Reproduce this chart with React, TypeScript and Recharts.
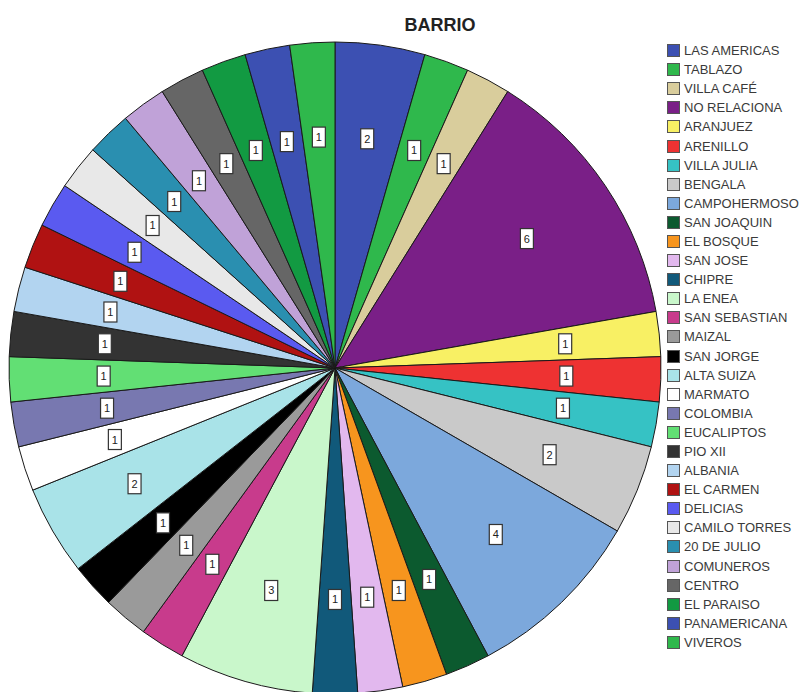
import React from 'react';
import { PieChart, Pie, Cell, Legend } from 'recharts';

// Neighbourhoods, clockwise from 12 o'clock
const barrios = [
  'LAS AMERICAS', 'TABLAZO', 'VILLA CAFÉ', 'NO RELACIONA', 'ARANJUEZ', 'ARENILLO',
  'VILLA JULIA', 'BENGALA', 'CAMPOHERMOSO', 'SAN JOAQUIN', 'EL BOSQUE', 'SAN JOSE',
  'CHIPRE', 'LA ENEA', 'SAN SEBASTIAN', 'MAIZAL', 'SAN JORGE', 'ALTA SUIZA',
  'MARMATO', 'COLOMBIA', 'EUCALIPTOS', 'PIO XII', 'ALBANIA', 'EL CARMEN',
  'DELICIAS', 'CAMILO TORRES', '20 DE JULIO', 'COMUNEROS', 'CENTRO', 'EL PARAISO',
  'PANAMERICANA', 'VIVEROS',
];

const conteos = [
  2, 1, 1, 6, 1, 1,
  1, 2, 4, 1, 1, 1,
  1, 3, 1, 1, 1, 2,
  1, 1, 1, 1, 1, 1,
  1, 1, 1, 1, 1, 1,
  1, 1,
];

const COLORS = [
  '#3c50b2', '#2fb84c', '#d9cd9c', '#7a1f87', '#f8f064', '#ee3232',
  '#36c2c4', '#c9c9c9', '#7ca8dc', '#0c5a2f', '#f7951e', '#e2b8ee',
  '#11597a', '#c9f7cb', '#c83b8c', '#9a9a9a', '#000000', '#a9e3e8',
  '#ffffff', '#7878b0', '#62df74', '#333333', '#b2d4f0', '#b01212',
  '#5a5af0', '#e8e8e8', '#2a8fb0', '#c0a2d8', '#666666', '#129a42',
  '#3c50b2', '#2fb84c',
];

const data = barrios.map((name, i) => ({ name, value: conteos[i] }));

const RADIAN = Math.PI / 180;

// small boxed count inside each slice
const renderLabel = (props: any) => {
  const { cx, cy, midAngle, outerRadius, value } = props;
  const r = outerRadius * 0.71;
  const x = cx + r * Math.cos(-midAngle * RADIAN);
  const y = cy + r * Math.sin(-midAngle * RADIAN);
  return (
    <g>
      <rect x={x - 6.5} y={y - 10} width={13} height={20} fill="#fff" stroke="#333" strokeWidth={1.2} />
      <text x={x} y={y + 4} textAnchor="middle" fontSize={11} fontFamily="Arial, Liberation Sans, sans-serif" fill="#222">
        {value}
      </text>
    </g>
  );
};

const renderLegend = () => (
  <div style={{ fontFamily: 'Liberation Sans, Arial, sans-serif', fontSize: 13, color: '#3a3a3a' }}>
    {barrios.map((b, i) => (
      <div key={b} style={{ display: 'flex', alignItems: 'center', height: 19.1, whiteSpace: 'nowrap' }}>
        <span
          style={{
            display: 'inline-block',
            width: 11,
            height: 11,
            background: COLORS[i],
            border: '1px solid #555',
            marginRight: 4,
          }}
        />
        {b}
      </div>
    ))}
  </div>
);

export default function App() {
  return (
    <div style={{ position: 'absolute', left: 0, top: 0, width: 810, height: 692, overflow: 'hidden', background: '#fff' }}>
      <div
        style={{
          position: 'absolute',
          top: 15,
          left: 440,
          transform: 'translateX(-50%)',
          fontFamily: 'Liberation Sans, Arial, sans-serif',
          fontWeight: 'bold',
          fontSize: 18,
          color: '#222',
        }}
      >
        BARRIO
      </div>
      <PieChart width={810} height={760} margin={{ top: 0, right: 0, bottom: 0, left: 0 }}>
        <Pie
          data={data}
          dataKey="value"
          nameKey="name"
          cx={335}
          cy={368}
          outerRadius={326}
          startAngle={90}
          endAngle={-270}
          stroke="#1a1a1a"
          strokeWidth={1}
          label={renderLabel}
          labelLine={false}
          isAnimationActive={false}
        >
          {data.map((entry, index) => (
            <Cell key={`cell-${index}`} fill={COLORS[index % COLORS.length]} />
          ))}
        </Pie>
        <Legend
          layout="vertical"
          align="right"
          verticalAlign="top"
          content={renderLegend}
          wrapperStyle={{ left: 667, top: 41, width: 143 }}
        />
      </PieChart>
    </div>
  );
}
